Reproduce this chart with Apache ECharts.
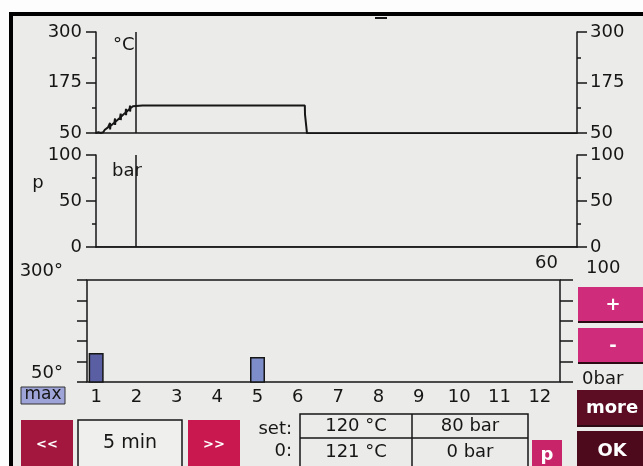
<!DOCTYPE html>
<html>
<head>
<meta charset="utf-8">
<script src="https://cdn.jsdelivr.net/npm/echarts@6/dist/echarts.min.js"></script>
<style>
  html, body { margin: 0; padding: 0; background: #fdfdfd; }
  #chart { width: 643px; height: 466px; }
</style>
</head>
<body>
<div id="chart"></div>
<script>
  // temperature trace, [minutes, °C]
  const tempTrace = [
    [0, 50], [0.3, 52], [0.6, 50], [0.9, 52], [1.1, 58], [1.5, 64],
    [1.75, 75], [1.76, 59], [1.8, 67], [2.3, 76], [2.37, 86], [2.38, 70], [2.42, 78],
    [3.0, 88], [3.08, 98], [3.09, 82], [3.12, 90], [3.7, 101], [3.74, 110], [3.75, 94],
    [3.78, 102], [4.2, 110], [4.24, 118], [4.25, 103], [4.3, 111], [4.6, 116], [4.8, 118],
    [5.8, 118], [5.85, 116], [5.9, 118], [6.6, 118], [6.65, 116], [6.7, 118],
    [7.4, 118], [7.45, 116], [7.5, 118], [8.2, 118], [8.25, 116], [8.3, 118],
    [9.4, 118], [9.45, 116], [9.5, 118],
    [26.05, 118], [26.07, 96], [26.3, 95], [26.32, 49], [60, 49]
  ];
  // pressure trace, [minutes, bar]
  const pressTrace = [[0, 0], [60, 0]];
  const cursorTime = 4.9;
  const timeMax = 60;

  const tempTicks = { min: 50, max: 300, interval: 125 };
  const pressTicks = { min: 0, max: 100, interval: 50 };

  const vessels = ['1', '2', '3', '4', '5', '6', '7', '8', '9', '10', '11', '12'];
  const vesselTemp = [121, null, null, null, 111, null, null, null, null, null, null, null];

  const setValues = ['120 °C', '80 bar'];
  const actualValues = ['121 °C', '0 bar'];

  const ink = '#161616';
  const font = 'DejaVu Sans';

  const myChart = echarts.init(document.getElementById('chart'));

  function sideAxis(grid, pos, t, margin) {
    return {
      type: 'value', gridIndex: grid, position: pos,
      min: t.min, max: t.max, interval: t.interval,
      axisLine: { show: true, lineStyle: { color: ink, width: 1.5 } },
      axisTick: { show: true, length: 10, lineStyle: { color: ink, width: 1.5 } },
      minorTick: { show: true, splitNumber: 2, length: 4, lineStyle: { color: ink, width: 1.5 } },
      splitLine: { show: false },
      axisLabel: { color: ink, fontSize: 18, fontFamily: font, margin: margin }
    };
  }

  function cursor() {
    return {
      silent: true, symbol: ['none', 'none'],
      label: { show: false },
      lineStyle: { color: ink, width: 1.5, type: 'solid' },
      data: [{ xAxis: cursorTime }]
    };
  }

  function txt(x, y, s, align, size) {
    return {
      type: 'text', x: x, y: y,
      style: { text: s, fill: ink, font: (size || 18) + 'px "DejaVu Sans"', textAlign: align || 'center', textVerticalAlign: 'middle' }
    };
  }

  function button(x, y, w, h, color, label, fontSize) {
    return [
      { type: 'rect', shape: { x: x, y: y, width: w, height: h }, style: { fill: color } },
      { type: 'rect', shape: { x: x, y: y + h - 2, width: w, height: 2 }, style: { fill: '#2c0a14' } },
      { type: 'text', x: x + w / 2, y: y + h / 2,
        style: { text: label, fill: '#fff', font: 'bold ' + fontSize + 'px "DejaVu Sans"', textAlign: 'center', textVerticalAlign: 'middle' } }
    ];
  }

  const graphic = [
    { type: 'rect', z: -100, shape: { x: 11, y: 14, width: 650, height: 470 },
      style: { fill: '#ebebe9', stroke: '#000', lineWidth: 4 } },
    { type: 'rect', shape: { x: 375, y: 17, width: 12, height: 2 }, style: { fill: ink } },
    txt(113, 45, '°C', 'left'),
    txt(112, 171, 'bar', 'left'),
    txt(38, 183, 'p'),
    { type: 'rect', shape: { x: 21, y: 387, width: 44, height: 17 }, style: { fill: '#9fa4d8', stroke: '#333', lineWidth: 1 } },
    txt(43, 395, 'max', 'center', 17),
    ...button(578, 287, 70, 36, '#cf2c7c', '+', 18),
    ...button(578, 328, 70, 36, '#cf2c7c', '-', 18),
    ...button(21, 420, 52, 50, '#a3173f', '<<', 13),
    { type: 'rect', shape: { x: 78, y: 420, width: 104, height: 50 }, style: { fill: '#efefed', stroke: ink, lineWidth: 1.5 } },
    txt(130, 443, '5 min', 'center', 19),
    ...button(188, 420, 52, 50, '#c8184f', '>>', 13),
    txt(292, 429, 'set:', 'right'),
    txt(292, 451, '0:', 'right'),
    { type: 'rect', shape: { x: 300, y: 414, width: 228, height: 60 }, style: { fill: 'none', stroke: ink, lineWidth: 1.5 } },
    { type: 'line', shape: { x1: 300, y1: 438, x2: 528, y2: 438 }, style: { stroke: ink, lineWidth: 1.5 } },
    { type: 'line', shape: { x1: 412, y1: 414, x2: 412, y2: 474 }, style: { stroke: ink, lineWidth: 1.5 } },
    txt(356, 426, setValues[0]),
    txt(470, 426, setValues[1]),
    txt(356, 452, actualValues[0]),
    txt(470, 452, actualValues[1]),
    ...button(532, 440, 30, 30, '#c8246a', 'p', 18),
    ...button(577, 390, 70, 37, '#5c0d24', 'more', 18),
    ...button(577, 431, 70, 40, '#4d0a1c', 'OK', 18),
    txt(558, 263, String(timeMax), 'right')
  ];

  const option = {
    animation: false,
    backgroundColor: '#fdfdfd',
    textStyle: { fontFamily: font },
    grid: [
      { left: 96, right: 66, top: 32, bottom: 333 },
      { left: 96, right: 66, top: 155, bottom: 219 },
      { left: 87, right: 83, top: 280, bottom: 84, show: true, borderColor: ink, borderWidth: 1.5, backgroundColor: 'transparent' },
      { left: 76, right: 83, top: 280, bottom: 84 }
    ],
    xAxis: [
      { type: 'value', gridIndex: 0, min: 0, max: timeMax,
        axisLine: { show: true, lineStyle: { color: ink, width: 1.5 } },
        axisTick: { show: false }, axisLabel: { show: false }, splitLine: { show: false } },
      { type: 'value', gridIndex: 1, min: 0, max: timeMax,
        axisLine: { show: true, lineStyle: { color: ink, width: 1.5 } },
        axisTick: { show: false }, axisLabel: { show: false }, splitLine: { show: false } },
      { type: 'value', gridIndex: 2, min: 0, max: 1, show: false },
      { type: 'category', gridIndex: 3, data: vessels,
        axisLine: { show: false }, axisTick: { show: false },
        axisLabel: { color: ink, fontSize: 18, fontFamily: font, margin: 6 } }
    ],
    yAxis: [
      sideAxis(0, 'left', tempTicks, 14),
      sideAxis(0, 'right', tempTicks, 13),
      sideAxis(1, 'left', pressTicks, 14),
      sideAxis(1, 'right', pressTicks, 13),
      { type: 'value', gridIndex: 2, position: 'left', min: 50, max: 300, interval: 50, offset: 5,
        axisLine: { show: false },
        axisTick: { show: true, length: 10, lineStyle: { color: ink, width: 1.5 } },
        splitLine: { show: false },
        axisLabel: { color: ink, fontSize: 18, fontFamily: font, margin: 19, verticalAlign: 'bottom',
          formatter: v => (v === 300 || v === 50) ? v + '°' : '' } },
      { type: 'value', gridIndex: 2, position: 'right', min: 0, max: 100, interval: 20,
        axisLine: { show: false },
        axisTick: { show: true, length: 13, lineStyle: { color: ink, width: 1.5 } },
        splitLine: { show: false },
        axisLabel: { color: ink, fontSize: 18, fontFamily: font, margin: 22, verticalAlign: 'middle',
          formatter: v => v === 100 ? '{a|100}' : v === 0 ? '{b|0bar}' : '',
          rich: { a: { fontSize: 18, padding: [0, 0, 24, 4] }, b: { fontSize: 18, padding: [0, 0, 6, 0] } } } },
      { type: 'value', gridIndex: 3, min: 50, max: 300, show: false }
    ],
    series: [
      { type: 'line', xAxisIndex: 0, yAxisIndex: 0, data: tempTrace, showSymbol: false,
        lineStyle: { color: ink, width: 2 }, markLine: cursor() },
      { type: 'line', xAxisIndex: 1, yAxisIndex: 2, data: pressTrace, showSymbol: false,
        lineStyle: { color: ink, width: 1.5 }, markLine: cursor() },
      { type: 'bar', xAxisIndex: 3, yAxisIndex: 6, barWidth: 15,
        data: vesselTemp.map((v, i) => ({ value: v, itemStyle: { color: i === 0 ? '#5a5ea3' : '#7c8dc9' } })),
        itemStyle: { borderColor: ink, borderWidth: 1.5 } }
    ],
    graphic: graphic
  };

  myChart.setOption(option);
</script>
</body>
</html>
